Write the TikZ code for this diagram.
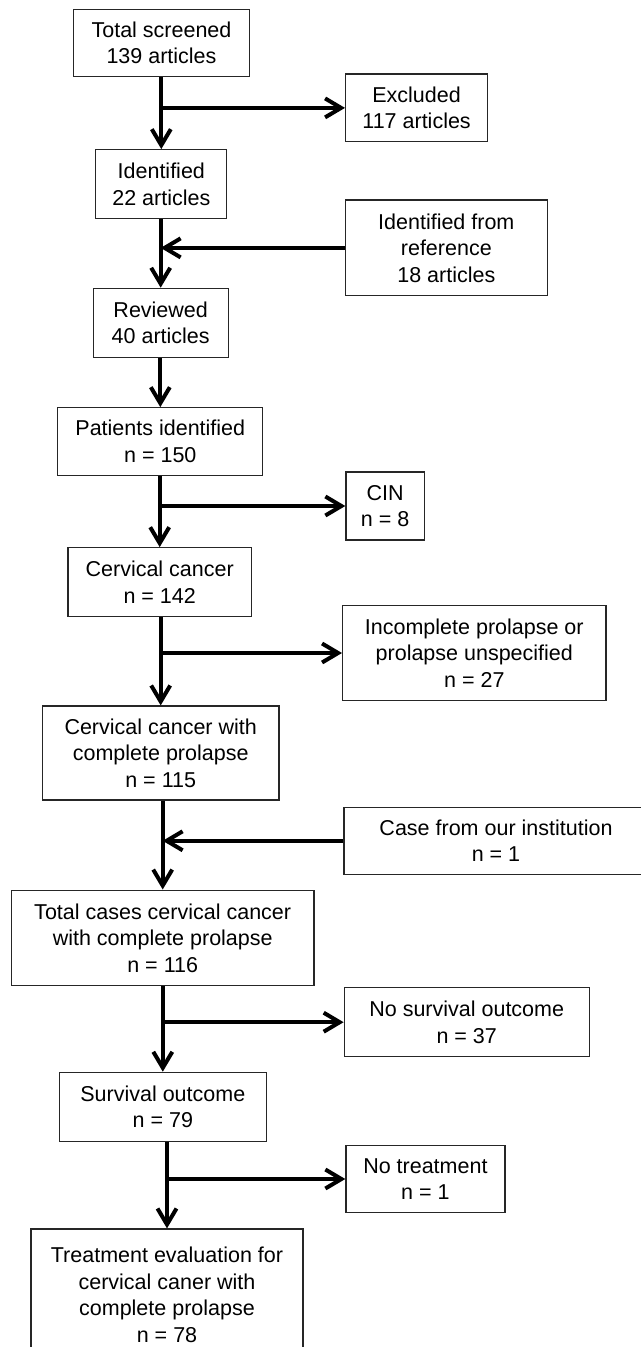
\documentclass[tikz,border=0pt]{standalone}
\usepackage{fontspec}
\setmainfont{Liberation Sans}
\usetikzlibrary{arrows.meta}

\begin{document}
\begin{tikzpicture}[x=0.5pt,y=-0.5pt]

	% INPUTS (one unit = one pixel of the drawing, y runs downwards)
	
	\newcommand{\flowwidth}{2pt}			% thickness of the connectors
	\newcommand{\boxfont}{\fontsize{10.75}{13.25}\selectfont}
	
	% page frame
	\useasboundingbox (0,0) rectangle (641,1347);
	\clip (0,0) rectangle (641,1347);
	
	% styles
	\tikzstyle{box}=[draw=black!85,line width=0.6pt,align=center,inner sep=0pt,font=\boxfont];
	\tikzstyle{flow}=[line width=\flowwidth,-{Straight Barb[length=8pt,width=9.5pt]}];
	
	% main column
	\node[box,minimum width=88pt,minimum height=33.7pt] (total) at (161.5,43) {Total screened\\139 articles};
	\node[box,minimum width=65.5pt,minimum height=34.5pt] (ident) at (161.3,184.2) {Identified\\22 articles};
	\node[box,minimum width=67.5pt,minimum height=34.5pt] (review) at (160.7,322.8) {Reviewed\\40 articles};
	\node[box,minimum width=102.5pt,minimum height=33.7pt] (patient) at (160.3,441.4) {Patients identified\\n = 150};
	\node[box,minimum width=91.8pt,minimum height=34.5pt] (cerv) at (159.7,582.2) {Cervical cancer\\n = 142};
	\node[box,minimum width=118.2pt,minimum height=47pt] (compl) at (160.7,753) {Cervical cancer with\\complete prolapse\\n = 115};
	\node[box,minimum width=151.3pt,minimum height=47.8pt] (totcase) at (162.7,937.9) {Total cases cervical cancer\\with complete prolapse\\n = 116};
	\node[box,minimum width=103.5pt,minimum height=34.4pt] (surv) at (162.8,1106.7) {Survival outcome\\n = 79};
	\node[box,minimum width=136pt,minimum height=66pt] (treat) at (167,1295) {Treatment evaluation for\\cervical caner with\\complete prolapse\\n = 78};
	
	% side boxes
	\node[box,minimum width=71pt,minimum height=33.9pt] (excl) at (416.6,107.9) {Excluded\\117 articles};
	\node[box,minimum width=100.8pt,minimum height=47.9pt] (ref) at (446.3,247.9) {Identified from\\reference\\18 articles};
	\node[box,minimum width=39.3pt,minimum height=34pt] (cin) at (385.2,506) {CIN\\n = 8};
	\node[box,minimum width=131.7pt,minimum height=47.7pt] (incompl) at (474.3,653) {Incomplete prolapse or\\prolapse unspecified\\n = 27};
	\node[box,minimum width=152pt,minimum height=33.5pt] (case) at (496,840.8) {Case from our institution\\n = 1};
	\node[box,minimum width=122.5pt,minimum height=34.5pt] (nosurv) at (466.7,1022.2) {No survival outcome\\n = 37};
	\node[box,minimum width=79.5pt,minimum height=33.7pt] (notreat) at (425.4,1179) {No treatment\\n = 1};
	
	% down the main column
	\draw[flow] (ident.north |- total.south) -- (ident.north);
	\draw[flow] (review.north |- ident.south) -- (review.north);
	\draw[flow] (patient.north |- review.south) -- (patient.north);
	\draw[flow] (cerv.north |- patient.south) -- (cerv.north);
	\draw[flow] (compl.north |- cerv.south) -- (compl.north);
	\draw[flow] (totcase.north |- compl.south) -- (totcase.north);
	\draw[flow] (surv.north |- totcase.south) -- (surv.north);
	\draw[flow] (treat.north |- surv.south) -- (treat.north);
	
	% branches out of and into the column
	\draw[flow] (ident.north |- excl.west) -- (excl.west);
	\draw[flow] (ref.west) -- (ref.west -| review.north);
	\draw[flow] (cerv.north |- cin.west) -- (cin.west);
	\draw[flow] (compl.north |- incompl.west) -- (incompl.west);
	\draw[flow] (case.west) -- (case.west -| totcase.north);
	\draw[flow] (surv.north |- nosurv.west) -- (nosurv.west);
	\draw[flow] (treat.north |- notreat.west) -- (notreat.west);
	
\end{tikzpicture}
\end{document}
